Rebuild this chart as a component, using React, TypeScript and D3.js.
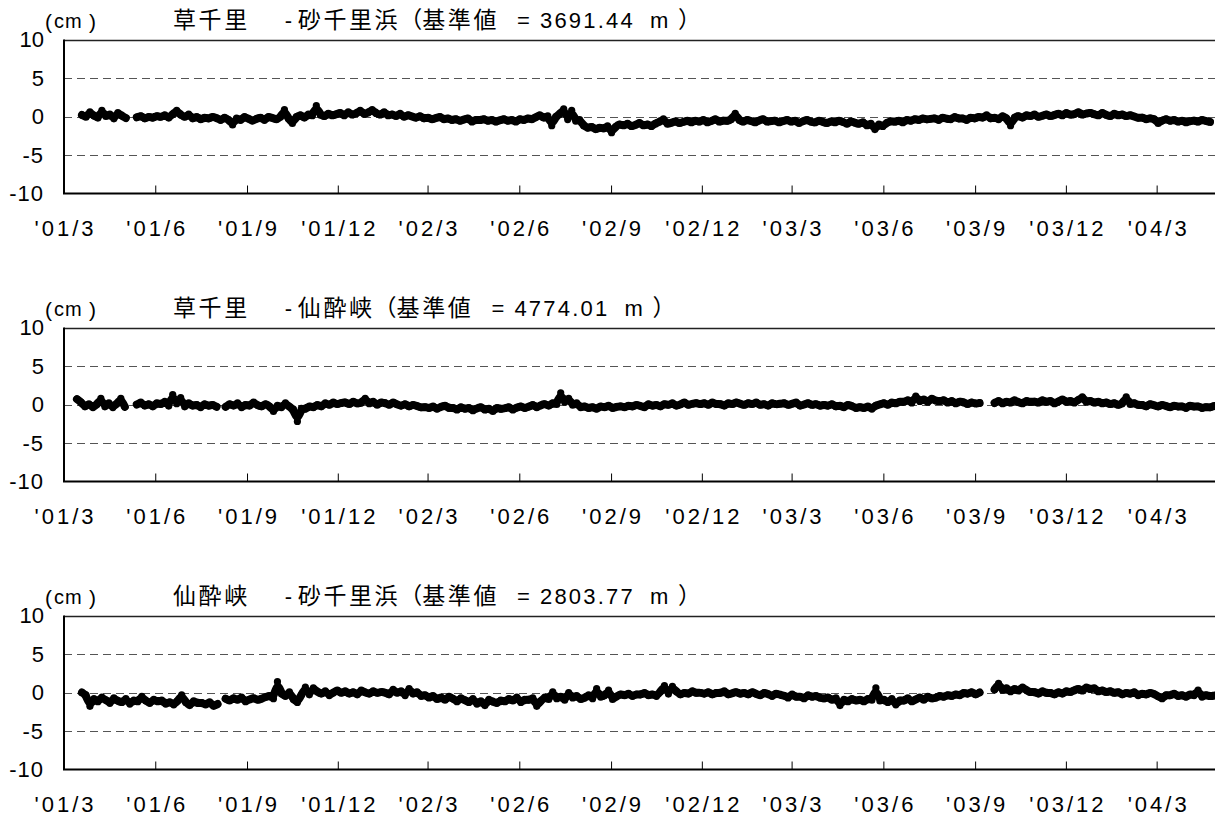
import React from "react";
import * as d3 from "d3";

// ---- axis / tick data ----
const TICK_DATES = [
  "2001-03-01", "2001-06-01", "2001-09-01", "2001-12-01",
  "2002-03-01", "2002-06-01", "2002-09-01", "2002-12-01",
  "2003-03-01", "2003-06-01", "2003-09-01", "2003-12-01", "2004-03-01",
];
const TICK_LABELS = [
  "'01/3", "'01/6", "'01/9", "'01/12", "'02/3", "'02/6", "'02/9",
  "'02/12", "'03/3", "'03/6", "'03/9", "'03/12", "'04/3",
];
const Y_TICKS = [10, 5, 0, -5, -10];
const GRID_TICKS = [5, 0, -5];
const DOMAIN_START = "2001-03-01";
const DOMAIN_END = "2004-04-28";
const STEP_DAYS = 4;

// title pieces
const TITLE_FROM = ["草千里", "草千里", "仙酔峡"];
const TITLE_TO = ["砂千里浜", "仙酔峡", "砂千里浜"];
const TITLE_BASE = ["3691.44", "4774.01", "2803.77"];

// ---- panel 1 : 草千里 - 砂千里浜 (cm), one value every 4 days ----
const p1aStart = "2001-03-19";
const p1a = [0.2, -0.1, 0.6, 0.1, -0.2, 0.8, 0.0, 0.3, -0.3, 0.5, 0.1, -0.2];
const p1bStart = "2001-05-13";
const p1b = [
  -0.1, 0.1, -0.3, 0.0, -0.2, 0.1, -0.1, 0.2, -0.2, 0.3,
  0.8, 0.2, -0.1, 0.3, -0.3, 0.0, -0.4, -0.1, -0.3, 0.0,
  -0.2, -0.5, -0.1, -0.4, -1.1, -0.2, -0.5, 0.0, -0.3, -0.6,
  -0.3, -0.1, -0.5, 0.0, -0.2, -0.4, -0.1, 0.9, -0.3, -0.9,
  0.0, 0.2, -0.2, 0.3, 0.1, 1.4, 0.2, 0.0, 0.4, 0.1,
  0.3, 0.5, 0.1, 0.6, 0.2, 0.4, 0.8, 0.3, 0.5, 0.9,
  0.4, 0.2, 0.6, 0.1, 0.3, 0.0, 0.4, -0.1, 0.2, 0.0,
  -0.2, 0.1, -0.3, -0.1, -0.4, -0.2, 0.0, -0.4, -0.2, -0.5,
  -0.3, -0.6, -0.4, -0.2, -0.7, -0.4, -0.5, -0.3, -0.6, -0.4,
  -0.7, -0.5, -0.3, -0.6, -0.4, -0.7, -0.3, -0.5, -0.2, -0.4,
  -0.1, 0.2, -0.2, 0.1, -1.2, 0.0, 0.3, 1.0, -0.4, 0.8,
  -0.6, -0.4, -1.2, -1.5, -1.3, -1.7, -1.4, -1.6, -1.2, -2.1,
  -1.3, -1.0, -1.2, -0.9, -1.3, -1.1, -0.8, -1.2, -1.0, -1.3,
  -0.9, -0.7, -0.3, -1.0, -0.8, -0.6, -0.9, -0.7, -0.5, -0.8,
  -0.5, -0.7, -0.4, -0.8, -0.6, -0.3, -0.7, -0.5, -0.6, -0.4,
  0.4, -0.5, -0.7, -0.4, -0.6, -0.8, -0.5, -0.3, -0.7, -0.6,
  -0.5, -0.8, -0.6, -0.4, -0.7, -0.5, -0.9, -0.6, -0.4, -0.7,
  -0.8, -0.5, -0.7, -0.9, -0.6, -0.8, -0.5, -0.7, -1.0, -0.6,
  -0.8, -1.0, -0.7, -1.2, -0.9, -1.7, -1.0, -1.3, -0.8, -0.6,
  -0.7, -0.5, -0.8, -0.4, -0.6, -0.3, -0.5, -0.2, -0.4, -0.3,
  -0.2, -0.5, -0.1, -0.3, -0.4, 0.0, -0.3, -0.2, -0.5, -0.1,
  -0.3, 0.0, -0.2, 0.2, -0.3, -0.1, -0.4, 0.1, -0.2, -1.2,
  -0.1, 0.1, -0.2, 0.2, 0.0, 0.3, -0.1, 0.1, 0.3, 0.0,
  0.2, 0.4, 0.1, 0.5, 0.2, 0.3, 0.6, 0.2, 0.4, 0.5,
  0.3, 0.1, 0.5, 0.2, 0.0, 0.4, 0.1, 0.3, 0.0, 0.2,
  0.0, -0.2, -0.1, -0.4, -0.2, -0.3, -0.9, -0.5, -0.3, -0.6,
  -0.4, -0.7, -0.5, -0.8, -0.6, -0.5, -0.7, -0.4, -0.6, -0.7,
];

// ---- panel 2 : 草千里 - 仙酔峡 ----
const p2aStart = "2001-03-14";
const p2a = [0.7, 0.3, -0.3, 0.1, -0.4, 0.0, 0.8, -0.3, 0.2, -0.4, 0.1, 0.8, -0.3];
const p2bStart = "2001-05-13";
const p2b = [
  0.0, 0.3, -0.2, 0.1, -0.3, 0.2, 0.0, 0.4, -0.2, 1.3,
  0.1, 0.9, -0.3, 0.2, -0.2, 0.0, -0.4, 0.1, -0.2, 0.0, -0.3,
];
const p2cStart = "2001-08-10";
const p2c = [
  -0.3, 0.1, -0.2, 0.2, -0.4, 0.0, -0.2, 0.3, -0.1, -0.3,
  0.1, -0.2, -0.9, -0.1, -0.4, 0.2, -0.3, -0.6, -2.2, -0.5,
  -0.6, -0.2, -0.4, 0.0, -0.3, 0.2, -0.1, 0.3, 0.0, 0.2,
  0.3, 0.0, 0.4, 0.1, 0.2, 0.8, 0.1, 0.4, -0.1, 0.3,
  0.2, -0.1, 0.3, 0.0, -0.2, 0.1, -0.3, 0.0, -0.2, -0.4,
  -0.3, -0.5, -0.2, -0.6, -0.3, -0.1, -0.5, -0.4, -0.7, -0.3,
  -0.6, -0.4, -0.8, -0.5, -0.3, -0.7, -0.5, -0.9, -0.4, -0.6,
  -0.5, -0.3, -0.7, -0.4, -0.2, -0.5, -0.3, 0.0, -0.4, -0.1,
  0.1, -0.2, 0.2, 0.0, 1.5, 0.3, 0.8, -0.1, 0.2, -0.4,
  -0.2, -0.5, -0.3, -0.6, -0.2, -0.4, -0.1, -0.5, -0.3, -0.2,
  -0.4, -0.1, -0.3, 0.0, -0.2, -0.4, 0.1, -0.2, 0.0, -0.3,
  0.1, -0.1, 0.2, -0.2, 0.0, 0.3, -0.1, 0.1, 0.2, 0.0,
  0.2, -0.1, 0.3, 0.0, 0.1, -0.2, 0.2, 0.0, 0.3, 0.1,
  -0.1, 0.2, 0.0, 0.3, -0.1, 0.1, -0.2, 0.2, 0.0, 0.1,
  0.2, -0.1, 0.1, 0.3, -0.2, 0.0, 0.2, -0.1, 0.1, -0.2,
  0.0, -0.2, 0.1, -0.3, -0.1, -0.4, 0.0, -0.2, -0.5, -0.3,
  -0.5, -0.2, -0.6, -0.1, 0.0, 0.2, -0.1, 0.3, 0.1, 0.4,
  0.3, 0.6, 0.2, 1.1, 0.4, 0.7, 0.3, 0.8, 0.5, 0.4,
  0.6, 0.2, 0.5, 0.1, 0.4, 0.3, 0.0, 0.3, 0.1, 0.2,
];
const p2dStart = "2003-09-20";
const p2d = [
  0.2, 0.5, 0.1, 0.4, 0.2, 0.6, 0.3, 0.1, 0.5, 0.3,
  0.4, 0.2, 0.6, 0.3, 0.5, 0.1, 0.4, 0.7, 0.3, 0.5,
  0.2, 0.6, 1.0, 0.3, 0.5, 0.2, 0.4, 0.1, 0.3, 0.0,
  0.2, -0.1, 0.1, 1.0, 0.0, 0.2, -0.1, 0.0, -0.3, 0.1,
  -0.1, -0.3, 0.0, -0.2, -0.4, -0.1, -0.3, -0.2, -0.5, -0.1,
  -0.3, -0.2, -0.5, -0.3, -0.4, -0.2,
];

// ---- panel 3 : 仙酔峡 - 砂千里浜 ----
const p3aStart = "2001-03-19";
const p3a = [
  0.0, -0.3, -1.8, -0.8, -1.2, -0.6, -1.0, -1.4, -0.7, -1.1,
  -1.3, -0.8, -1.5, -1.0, -1.2, -0.5, -1.1, -1.4, -0.9, -1.2,
  -1.0, -1.5, -1.2, -1.6, -1.1, -0.3, -1.3, -1.7, -1.1, -1.4,
  -1.3, -1.6, -1.2, -1.8, -1.5,
];
const p3bStart = "2001-08-10";
const p3b = [
  -0.8, -1.1, -0.7, -1.0, -0.6, -1.2, -0.9, -0.7, -1.0, -0.8,
  -0.6, -0.4, -0.8, 1.4, -0.2, -0.5, 0.1, -0.9, -1.3, -0.3,
  0.7, -0.3, 0.6, 0.1, -0.2, 0.2, -0.4, 0.0, 0.3, -0.1,
  0.2, -0.2, 0.1, -0.3, 0.3, 0.0, -0.2, 0.2, -0.1, 0.1,
  0.0, -0.3, 0.4, -0.1, 0.2, -0.4, 0.5, -0.2, 0.1, -0.5,
  -0.3, -0.7, -0.4, -0.9, -0.6, -1.0, -0.5, -0.8, -1.2, -0.7,
  -1.0, -1.3, -0.8, -1.5, -1.1, -1.7, -0.9, -1.2, -1.4, -1.0,
  -1.2, -0.8, -1.1, -0.6, -1.3, -0.9, -1.0, -0.7, -1.8, -1.1,
  -0.6, -0.9, 0.1, -0.8, -0.5, -1.0, 0.0, -0.7, -0.4, -0.9,
  -0.7, -0.3, -0.8, 0.5, -0.6, -0.4, 0.3, -0.9, -0.5, -0.2,
  -0.4, -0.1, -0.5, -0.2, -0.3, 0.0, -0.4, -0.2, -0.5, 0.1,
  0.9, -0.2, 0.8, 0.1, -0.3, 0.0, -0.2, 0.2, -0.1, 0.0,
  -0.2, 0.1, -0.3, 0.0, -0.1, 0.2, -0.3, -0.1, 0.1, -0.2,
  0.0, -0.3, 0.1, -0.2, -0.4, 0.0, -0.2, -0.5, -0.1, -0.3,
  -0.4, -0.7, -0.2, -0.6, -0.5, -0.8, -0.3, -0.6, -0.4, -0.7,
  -0.8, -0.6, -1.0, -0.7, -1.7, -0.9, -1.2, -0.8, -1.1, -0.9,
  -1.2, -0.8, -1.0, 0.6, -1.1, -0.9, -1.3, -0.8, -1.6, -1.0,
  -1.1, -0.7, -1.2, -0.9, -0.6, -1.0, -0.5, -0.8, -0.7, -0.4,
  -0.6, -0.3, -0.5, -0.2, -0.4, 0.0, -0.2, 0.1, -0.3, 0.0,
];
const p3cStart = "2003-09-20";
const p3c = [
  0.4, 1.2, 0.3, 0.6, 0.1, 0.5, 0.2, 0.7, 0.3, 0.0,
  0.1, -0.2, 0.2, -0.1, 0.0, -0.3, 0.1, -0.2, 0.2, 0.0,
  0.3, 0.5, 0.2, 0.7, 0.4, 0.6, 0.1, 0.3, 0.0, 0.2,
  -0.1, 0.1, -0.3, 0.0, -0.2, 0.1, -0.4, -0.1, -0.3, 0.0,
  -0.2, -0.5, -0.8, -0.3, -0.4, -0.1, -0.5, -0.3, -0.6, -0.2,
  -0.4, 0.3, -0.6, -0.3, -0.5, -0.4,
];

const PANELS = [
  [{ start: p1aStart, values: p1a }, { start: p1bStart, values: p1b }],
  [
    { start: p2aStart, values: p2a },
    { start: p2bStart, values: p2b },
    { start: p2cStart, values: p2c },
    { start: p2dStart, values: p2d },
  ],
  [
    { start: p3aStart, values: p3a },
    { start: p3bStart, values: p3b },
    { start: p3cStart, values: p3c },
  ],
];

const parse = d3.timeParse("%Y-%m-%d");

const W = 1215;
const H = 818;
const LEFT = 64;
const RIGHT = 1215;
const TOP0 = 39.5;
const PANEL_GAP = 288;
const PANEL_H = 154;
const FONT = "'Liberation Sans', Arial, 'Noto Sans CJK JP', sans-serif";
const CJK = "'Noto Sans CJK JP', sans-serif";
const CJK_SIZE = 23;
const CJK_LS = 2.6;
const CJK_ADV = CJK_SIZE + CJK_LS;

const x = d3
  .scaleTime()
  .domain([parse(DOMAIN_START) as Date, parse(DOMAIN_END) as Date])
  .range([LEFT, RIGHT]);

const crisp = (v: number) => Math.round(v) + 0.5;

function Title({ index, top }: { index: number; top: number }) {
  const from = TITLE_FROM[index];
  const to = TITLE_TO[index];
  const base = TITLE_BASE[index];
  const by = top - 12;
  const x0 = 173;
  const xDash = x0 + 3 * CJK_ADV + 35;
  const xTo = x0 + 3 * CJK_ADV + 48;
  const xParen = xTo + to.length * CJK_ADV - 1;
  const xKi = xTo + to.length * CJK_ADV + 22;
  const xEq = xKi + 3 * CJK_ADV + 18;
  const xNum = xEq + 23;
  const xM = xNum + 110;
  const xClose = xM + 28;
  const cjk = { y: by, fontSize: CJK_SIZE, fill: "#000", fontFamily: CJK };
  const lat = { y: by, fontSize: 22, fill: "#000", fontFamily: FONT };
  return (
    <g>
      <text x={x0} {...cjk} letterSpacing={CJK_LS}>{from}</text>
      <text x={xDash} {...lat}>-</text>
      <text x={xTo} {...cjk} letterSpacing={CJK_LS}>{to}</text>
      <text x={xParen} {...cjk}>（</text>
      <text x={xKi} {...cjk} letterSpacing={CJK_LS}>基準値</text>
      <text x={xEq} {...lat}>=</text>
      <text x={xNum} {...lat} letterSpacing={2.2}>{base}</text>
      <text x={xM} {...lat}>m</text>
      <text x={xClose} {...cjk}>）</text>
    </g>
  );
}

function Panel({ index }: { index: number }) {
  const top = TOP0 + index * PANEL_GAP;
  const bottom = top + PANEL_H;
  const y = d3.scaleLinear().domain([-10, 10]).range([bottom, top]);
  const segs = PANELS[index].map((seg) => {
    const s = parse(seg.start) as Date;
    return seg.values.map((v, i) => ({
      d: d3.timeDay.offset(s, i * STEP_DAYS),
      v,
    }));
  });
  const band = d3
    .line<{ d: Date; v: number }>()
    .x((p) => x(p.d))
    .y((p) => y(p.v))
    .curve(d3.curveBasis);
  return (
    <g>
      {GRID_TICKS.map((t) => (
        <line
          key={t}
          x1={LEFT}
          x2={RIGHT}
          y1={crisp(y(t))}
          y2={crisp(y(t))}
          stroke="#555"
          strokeWidth={1}
          strokeDasharray="8,5"
        />
      ))}
      <line x1={LEFT} x2={RIGHT} y1={crisp(y(10))} y2={crisp(y(10))} stroke="#222" strokeWidth={1.3} />
      {segs.map((pts, si) => (
        <g key={si}>
          <path
            d={band(pts) || ""}
            fill="none"
            stroke="#000"
            strokeWidth={8}
            strokeLinejoin="round"
            strokeLinecap="round"
          />
          {pts.map((p, i) => (
            <circle key={i} cx={x(p.d)} cy={y(p.v)} r={3.6} fill="#000" />
          ))}
        </g>
      ))}
      <line x1={LEFT} x2={LEFT} y1={y(10)} y2={bottom} stroke="#000" strokeWidth={2} />
      <line x1={LEFT - 1} x2={RIGHT} y1={bottom} y2={bottom} stroke="#000" strokeWidth={2} />
      {TICK_DATES.map((t, i) => {
        const tx = x(parse(t) as Date);
        return (
          <g key={t}>
            {i > 0 && (
              <line x1={tx} x2={tx} y1={bottom} y2={bottom - 8} stroke="#000" strokeWidth={1} />
            )}
            <text
              x={tx + 1.5}
              y={bottom + 35}
              textAnchor="middle"
              dominantBaseline="central"
              fontFamily={FONT}
              fontSize={22}
              letterSpacing={3}
              fill="#000"
            >
              {TICK_LABELS[i]}
            </text>
          </g>
        );
      })}
      {Y_TICKS.map((t) => (
        <text
          key={t}
          x={44}
          y={y(t)}
          textAnchor="end"
          dominantBaseline="central"
          fontFamily={FONT}
          fontSize={22}
          letterSpacing={t < 0 ? 1 : 0}
          fill="#000"
        >
          {t}
        </text>
      ))}
      <text x={45} y={top - 11} fontFamily={FONT} fontSize={21} fill="#000">
        (
      </text>
      <text x={54} y={top - 12} fontFamily={FONT} fontSize={20} letterSpacing={1} fill="#000">
        cm
      </text>
      <text x={89} y={top - 11} fontFamily={FONT} fontSize={21} fill="#000">
        )
      </text>
      <Title index={index} top={top} />
    </g>
  );
}

export default function App() {
  return (
    <svg
      width={W}
      height={H}
      viewBox={`0 0 ${W} ${H}`}
      style={{ position: "absolute", left: 0, top: 0, background: "#fff" }}
    >
      <rect x={0} y={0} width={W} height={H} fill="#fff" />
      {[0, 1, 2].map((i) => (
        <Panel key={i} index={i} />
      ))}
    </svg>
  );
}
